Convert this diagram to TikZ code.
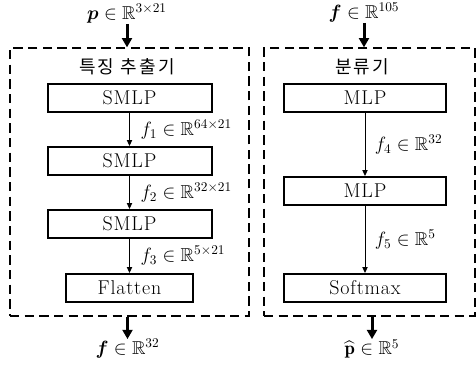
\documentclass[tikz,border=0pt]{standalone}
\usepackage{amsmath,amssymb}
\usepackage{fontspec}
\newfontfamily\krfont{Noto Sans CJK KR}[LetterSpace=12]
\newfontfamily\blockfont{Latin Modern Roman}[LetterSpace=4]
\usetikzlibrary{arrows.meta,positioning}

\begin{document}
\begin{tikzpicture}[
    x=0.75pt, y=-0.75pt,
    block/.style={rectangle, draw, line width=1.5pt, minimum height=21pt, inner sep=0pt, font=\blockfont\fontsize{15}{17}\selectfont},
    frame/.style={rectangle, draw, line width=1pt, dash pattern=on 7pt off 4pt},
    grouplabel/.style={font=\krfont\fontsize{13.5}{16}\selectfont},
    dim/.style={font=\fontsize{14}{16}\selectfont, inner sep=0pt},
    flow/.style={-{Triangle[length=4.5pt,width=4pt]}, line width=0.75pt},
    feed/.style={-{Triangle[length=7pt,width=7.5pt]}, line width=2.25pt},
]
\useasboundingbox (0,0) rectangle (476,369);

% feature extractor
\node[frame, minimum width=179.25pt, minimum height=201pt] (fe) at (129.5,182) {};
\node[grouplabel] (fetitle) at (127,67) {특징 추출기};
\node[block, minimum width=123pt] (s1) at (129.5,98) {SMLP};
\node[block, minimum width=123pt] (s2) at (129.5,161) {SMLP};
\node[block, minimum width=123pt] (s3) at (129.5,224) {SMLP};
\node[block, minimum width=95pt] (flat) at (129.5,288) {Flatten};

\draw[flow] (s1) -- node[dim, right=8pt] {$f_1\in\mathbb{R}^{64\times 21}$} (s2);
\draw[flow] (s2) -- node[dim, right=8pt] {$f_2\in\mathbb{R}^{32\times 21}$} (s3);
\draw[flow] (s3) -- node[dim, right=8pt] {$f_3\in\mathbb{R}^{5\times 21}$} (flat);

\node[dim] (pin) at (127,14) {$\boldsymbol{p}\in\mathbb{R}^{3\times 21}$};
\node[dim] (fout) at (127.5,349) {$\boldsymbol{f}\in\mathbb{R}^{32}$};
\draw[feed] (pin) -- (pin |- fe.north);
\draw[feed] (fe.south -| fout) -- (fout);

% classifier
\node[frame, minimum width=158.25pt, minimum height=201pt] (clf) at (369.5,182) {};
\node[grouplabel] (clftitle) at (362,67) {분류기};
\node[block, minimum width=121.5pt] (m1) at (365,98) {MLP};
\node[block, minimum width=121.5pt] (m2) at (365,191) {MLP};
\node[block, minimum width=121.5pt] (sm) at (365,288) {Softmax};

\draw[flow] (m1) -- node[dim, right=7pt] {$f_4\in\mathbb{R}^{32}$} (m2);
\draw[flow] (m2) -- node[dim, right=7pt] {$f_5\in\mathbb{R}^{5}$} (sm);

\node[dim] (fin) at (364,13) {$\boldsymbol{f}\in\mathbb{R}^{105}$};
\node[dim] (pout) at (372,349) {$\widehat{\mathbf{p}}\in\mathbb{R}^{5}$};
\draw[feed] (fin) -- (fin |- clf.north);
\draw[feed] (clf.south -| pout) -- (pout);
\end{tikzpicture}
\end{document}
